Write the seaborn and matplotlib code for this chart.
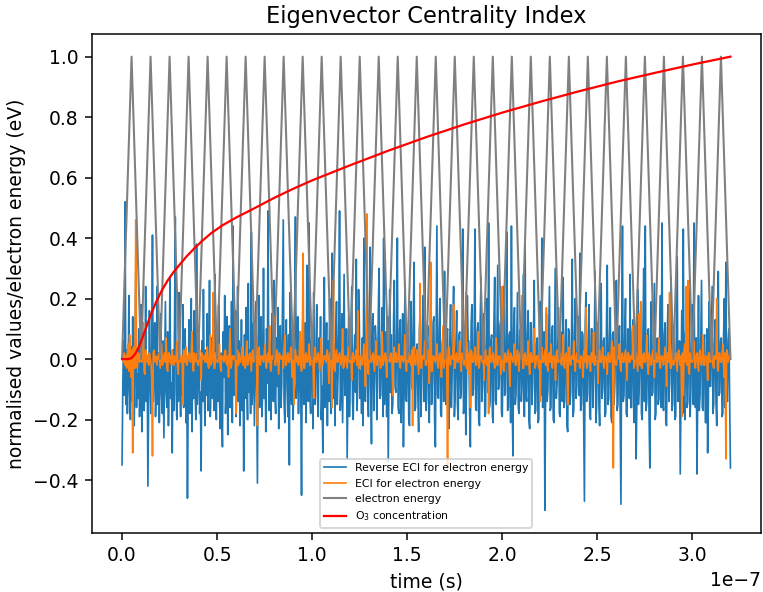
import numpy as np
import pandas as pd
import matplotlib
matplotlib.use('Agg')
import matplotlib.pyplot as plt
import seaborn as sns

# Both ECI series are sampled evenly over 0 .. 320 ns
t_end = 3.2e-7

# Reverse ECI for electron energy (hundredths)
reverse_eci = [
    -35, -8, 6, -12, 52, -15, 3, -18, -6, 21, -11, -20, 4, -14, 14, -9, -22, 2, 29, -16,
    -5, -13, 10, -19, -7, 18, -24, -3, 8, -17, -10, 24, -14, 1, -42, -12, 16, -6, -18, 5,
    41, -14, -4, 12, -19, -9, 24, -15, 2, -21, -7, 15, -12, -18, 6, -26, -3, 19, -11, -16,
    9, -22, -5, 27, -13, -8, -31, 3, -17, 11, 47, -10, -20, 4, -14, 22, -7, -19, 0, -12,
    18, -16, -6, 10, -21, -2, -46, -11, 13, -18, -8, 20, -24, 1, -13, 16, -9, -20, 38, -15,
    -4, 8, -18, -11, -37, 6, -14, 23, -7, -22, 3, -12, 15, -17, -5, 26, -19, -9, 7, -13,
    12, -17, 28, -8, -20, 5, -14, 18, -10, -23, 2, -15, -29, 9, -6, 21, -18, -11, 14, -25,
    -4, 11, -16, -8, 19, -21, 44, -12, -3, 16, -19, -7, 24, -14, 6, -22, -10, 13, -17, -1,
    -37, 8, -13, 17, -6, -20, 25, -11, 3, -18, 42, -15, -7, 12, -22, 0, 19, -12, -41, 7,
    21, -16, -5, 14, -19, -9, 30, -13, 2, -24, 10, -8, 49, -17, -11, 6, -20, 15, -3, -14,
    26, -12, -18, 7, -9, 17, -23, -4, 11, -16, -8, 20, 46, -14, -21, 3, 13, -10, -19, 8,
    -35, 22, -6, -15, 10, -20, 1, 16, 47, -13, -7, 14, -18, -2, 9, -11, -45, 5, 18, -15,
    -9, 12, -21, 31, -6, -14, 45, -11, -18, 6, 9, -23, 22, -8, -15, 4, 18, -12, -19, 7,
    -4, 14, -20, -9, -31, 11, 27, -16, -3, 12, -22, 6, -14, 20, -7, -18, 35, -10, -13, 5,
    -22, 8, 19, -15, -6, 12, 49, -17, -9, 15, -21, 3, 28, -12, -5, 10, -33, -8, 14, -19,
    -6, 9, 24, -14, -20, 2, 8, -11, 33, -17, -8, 23, 12, -13, -4, -18, 7, -22, 40, -10,
    -14, 10, 21, -12, -19, 4, 37, -9, -28, 13, 15, -17, -6, 11, 6, -20, -8, 16, 30, -13,
    -12, 5, 17, -19, 40, -15, -7, 9, -19, 14, -34, -6, 23, -11, 8, -18, -15, 12, 26, -9,
    -11, 7, 40, -16, -18, 10, 13, -21, -7, 15, -29, -4, 25, -13, -14, 6, 8, -20, -22, 12,
    19, -9, -10, 14, 32, -17, -16, 3, 5, -12, -24, 10, 15, -19, -9, 8, 21, -14, 37, -11,
    -17, 6, 11, -13, -21, 4, 26, -15, -8, 12, 14, -20, -29, 7, 44, -12, -13, 9, 20, -18,
    -19, 5, 7, -14, 29, -11, -15, 8, 10, -21, -23, 6, 18, -16, -6, 11, 24, -19, -12, 4,
    16, -15, -20, 8, 9, -13, -11, 5, 43, -18, -14, 10, -25, -7, 21, 6, 6, -17, -29, 11,
    18, -12, -10, 7, 43, -16, -17, 9, 12, -20, -22, 13, 27, -14, -9, 5, 15, -19, -18, 8,
    20, -11, 45, -16, -13, 6, 8, -19, -21, 12, 27, -14, -15, 7, 31, -10, -7, 11, 13, -18,
    -19, 5, 24, -12, -11, 9, 42, -17, -16, 8, 9, -21, 44, -13, -32, 10, 17, -15, -12, 4,
    22, -16, -18, 9, 10, -14, -9, 6, 28, -19, 39, -11, -14, 8, 16, -20, -23, 12, 12, -15,
    -8, 7, 26, -18, -17, 5, 7, -21, -20, 13, 19, -12, 40, -16, -13, 9, -50, -10, 15, -14,
    -10, 6, 24, -17, -16, 8, 11, -20, -21, 12, 30, -13, -8, 5, 17, -18, -19, 9, 5, -14,
    27, -16, -14, 7, 13, -22, -24, 10, 9, -15, -11, 6, 33, -19, -17, 8, 20, -13, -9, 4,
    14, -12, 35, -17, -15, 9, 8, -20, -47, 11, 22, -14, -12, 6, 18, -18, -20, 10, 10, -16,
    -7, 5, 29, -21, -16, 9, 12, -14, -22, 8, 25, -13, -10, 6, 7, -19, -18, 11, 31, -15,
    -13, 7, 17, -19, -21, 8, 9, -15, -8, 12, 26, -17, -15, 6, 11, -20, -48, 9, 44, -14,
    -12, 7, 20, -18, -19, 10, 8, -13, 28, -16, -16, 9, 13, -21, -10, 6, -33, -12, 23, -15,
    -9, 6, 16, -18, -20, 10, 30, -14, 44, -17, -14, 8, 10, -19, -36, 7, 19, -12, -11, 8,
    25, -20, -18, 6, 7, -15, -13, 9, 21, -16, 45, -13, -17, 8, 12, -21, -22, 10, 18, -14,
    -8, 5, 27, -17, -15, 9, 11, -20, -19, 7, 34, -14, -12, 6, -38, -10, 16, -18, 43, -13,
    -20, 9, 9, -16, -14, 8, 23, -19, -10, 6, 18, -15, 45, -12, -16, 7, -38, -11, 21, -17,
    -12, 8, 26, -16, -17, 6, 8, -21, -21, 10, -31, -13, 19, -9, -9, 7, 24, -18, -15, 5,
    13, -14, -22, 9, 29, -12, -11, 6, 7, -19, -18, 8, 20, -16, 32, -11, -14, 6, 10, -15,
    -36,
]

# ECI for electron energy (hundredths)
eci = [
    0, 1, -1, 2, -2, 1, -3, 2, 5, -4, 8, -2, -6, 3, -31, 4, 2, -3, 46, 5,
    -3, 1, 2, -1, 0, 2, -1, 1, 12, -4, -5, 3, 2, -1, 1, -2, 2, 0, -1, -6,
    -32, 2, 3, -1, 1, 0, -2, 1, 0, 2, -3, 1, 5, -2, -1, 1, 2, -1, 7, -3,
    -4, 2, 2, -1, 1, -2, 3, 0, -2, 1, 0, -1, 6, -3, -5, 2, 1, -1, 0, 1,
    -15, 3, 2, -1, 4, -2, -1, 1, 2, 0, -1, 2, 9, -3, -4, 2, 1, -1, 0, 2,
    -2, 1, 3, -1, -7, 2, 1, 0, 1, -1, 2, -1, 4, -2, -3, 1, 8, -2, -1, 1,
    22, -3, -3, 2, 2, -1, -1, 1, 5, -2, -4, 1, 1, 0, -1, 2, 3, -1, -2, 1,
    -6, 2, 10, -3, -2, 1, 1, 0, 1, -1, -18, 2, 3, -2, 2, -1, -1, 1, 4, -2,
    1, 0, -3, 1, 6, -2, -1, 1, 2, -1, -4, 2, 3, -1, 0, 1, 7, -2, -22, 3,
    4, -1, -2, 1, 1, 0, -1, 2, 5, -2, -3, 1, 2, -1, 11, -3, -4, 1, 1, 0,
    14, -2, -2, 1, 3, -1, -5, 2, 1, 0, 0, 1, -3, 2, 8, -2, -2, 1, 2, -1,
    -1, 1, 4, -2, -6, 2, -15, 3, 3, -1, 1, 0, -2, 1, 9, -2, -4, 1, 35, -3,
    -3, 1, 2, -1, -1, 1, 5, -2, -2, 1, 1, 0, -13, 2, 4, -1, -1, 1, 2, -1,
    -4, 2, 7, -2, -2, 1, 0, 1, -1, 2, 3, -1, -8, 2, 2, -1, -16, 3, 26, -3,
    -4, 1, 3, -1, -1, 1, 2, 0, -2, 1, 10, -3, -2, 1, 1, -1, -3, 2, 4, -1,
    -1, 1, -7, 2, 2, -1, 0, 1, 3, -2, 16, -3, -3, 1, 1, 0, -2, 1, 5, -1,
    -9, 3, 48, -4, -5, 2, 3, -1, -1, 1, 2, -1, -4, 2, 6, -2, -2, 1, 1, 0,
    -3, 1, 9, -2, -1, 1, 2, -1, -6, 2, 3, 0, -1, 1, 2, -1, -12, 2, 4, -1,
    2, -1, -1, 1, 5, -2, -3, 1, 1, 0, -1, 1, 8, -2, -4, 2, 2, -1, -1, 1,
    -2, 3, -22, 4, 4, -1, -2, 1, 3, -1, -5, 2, 25, -3, -3, 1, 1, 0, 6, -2,
    -2, 1, 3, -1, -8, 2, 32, -4, -4, 1, 1, 0, -1, 1, 5, -2, -3, 1, 2, -1,
    -6, 2, 11, -3, -1, 1, 3, -2, -36, 4, 4, -1, -2, 1, 1, 0, 18, -3, -3, 1,
    2, -1, -1, 1, 6, -2, -4, 2, 1, 0, -2, 1, 22, -3, 3, -1, -5, 2, -16, 3,
    2, -1, -1, 1, 4, -2, -2, 1, 9, -3, -2, 1, 1, 0, -1, 1, -7, 2, 3, -1,
    -2, 1, -18, 3, 4, -1, -1, 1, 2, -1, -3, 1, 7, -2, -2, 1, 1, 0, -5, 2,
    24, -3, -4, 1, 2, -1, -1, 1, 3, -2, -9, 2, 1, 0, -1, 1, 5, -2, -2, 1,
    3, -1, -4, 2, 1, 0, 21, -3, -3, 1, 2, -1, -2, 1, 6, -2, -5, 2, 2, -1,
    -1, 1, 10, -3, -2, 1, 1, 0, -3, 2, -14, 3, 4, -1, -1, 1, 3, -2, 17, -2,
    -4, 1, 2, -1, 5, -2, -3, 1, 1, 0, -7, 2, 3, -1, -1, 1, 2, -1, -2, 1,
    8, -2, -3, 1, 2, -1, -15, 3, 4, -1, -2, 1, 1, 0, 6, -2, -4, 1, 2, -1,
    2, -1, -3, 1, 1, 0, -6, 2, 3, -1, 17, -3, -2, 1, 1, -1, -4, 2, 2, -1,
    9, -2, -2, 1, 1, 0, -8, 3, 3, -1, -1, 1, 4, -2, -3, 1, 1, 0, -5, 2,
    2, -1, -1, 1, 6, -2, -36, 4, 3, -1, -2, 1, 1, 0, 5, -2, -4, 1, 2, -1,
    -1, 1, 3, -2, -7, 2, 2, -1, -1, 1, 1, 0, 11, -3, -2, 1, 2, -1, -4, 2,
    15, -2, 19, -3, -3, 1, 2, -1, -1, 1, 8, -2, -5, 2, 1, 0, -2, 1, 3, -1,
    -6, 2, 2, -1, -1, 1, 7, -2, -3, 1, 1, 0, -2, 1, 4, -1, -9, 2, 2, -1,
    22, -3, -3, 1, 5, -2, -1, 1, 2, -1, -4, 2, 3, 0, -2, 1, -19, 2, -12, 3,
    5, -1, 24, -2, 26, -4, -5, 2, 1, -1, -1, 1, 6, -2, -3, 1, 2, -1, -4, 2,
    3, -1, -2, 1, 8, -2, -2, 1, 1, 0, -7, 2, 2, -1, -1, 1, 4, -2, -3, 1,
    1, 0, 20, -3, -4, 2, 2, -1, -1, 1, 5, -2, -6, 2, -33, 3, 2, -1, 1, 0,
    0,
]

# Electron energy: triangle pulses, vertices in ns
energy_t_ns = [
    0, 5, 10, 15, 20, 25, 30, 35, 40, 45, 50, 55, 60, 65, 70, 75, 80, 85, 90, 95,
    100, 105, 110, 115, 120, 125, 130, 135, 140, 145, 150, 155, 160, 165, 170, 175,
    180, 185, 190, 195, 200, 205, 210, 215, 220, 225, 230, 235, 240, 245, 250, 255,
    260, 265, 270, 275, 280, 285, 290, 295, 300, 305, 310, 315, 320,
]
energy_val = [
    0, 1, 0, 1, 0, 1, 0, 1, 0, 1, 0, 1, 0, 1, 0, 1, 0, 1, 0, 1,
    0, 1, 0, 1, 0, 1, 0, 1, 0, 1, 0, 1, 0, 1, 0, 1,
    0, 1, 0, 1, 0, 1, 0, 1, 0, 1, 0, 1, 0, 1, 0, 1,
    0, 1, 0, 1, 0, 1, 0, 1, 0, 1, 0, 1, 0,
]

# O3 concentration (time in 1e-7 s)
o3_t = [0, 0.03, 0.05, 0.07, 0.09, 0.11, 0.13, 0.15, 0.18, 0.21, 0.24, 0.27, 0.30,
        0.34, 0.38, 0.42, 0.47, 0.53, 0.6, 0.7, 0.8, 0.9, 1.0, 1.2, 1.4, 1.6, 1.8,
        2.0, 2.2, 2.4, 2.6, 2.8, 3.0, 3.2]
o3_val = [0, 0, 0.003, 0.018, 0.042, 0.075, 0.11, 0.145, 0.19, 0.228, 0.26, 0.287,
          0.31, 0.34, 0.366, 0.39, 0.417, 0.443, 0.468, 0.5, 0.533, 0.563, 0.591,
          0.641, 0.689, 0.734, 0.776, 0.815, 0.851, 0.885, 0.917, 0.946, 0.974, 1.0]

# Build frames
rev_df = pd.DataFrame({'time': np.linspace(0, t_end, len(reverse_eci)),
                       'value': np.array(reverse_eci) / 100})
eci_df = pd.DataFrame({'time': np.linspace(0, t_end, len(eci)),
                       'value': np.array(eci) / 100})
energy_df = pd.DataFrame({'time': np.array(energy_t_ns) * 1e-9, 'value': energy_val})
o3_df = pd.DataFrame({'time': np.array(o3_t) * 1e-7, 'value': o3_val})

# Plot
fig = plt.figure(figsize=(763 / 135, 592 / 135), dpi=135)
ax = fig.add_axes([0.1201, 0.0997, 0.8771, 0.8429])

sns.lineplot(data=rev_df, x='time', y='value', ax=ax, color='tab:blue',
             linewidth=0.9, label='Reverse ECI for electron energy')
sns.lineplot(data=eci_df, x='time', y='value', ax=ax, color='tab:orange',
             linewidth=0.9, label='ECI for electron energy')
sns.lineplot(data=energy_df, x='time', y='value', ax=ax, color='grey',
             linewidth=1.1, label='electron energy')
sns.lineplot(data=o3_df, x='time', y='value', ax=ax, color='red',
             linewidth=1.2, label='O$_3$ concentration')

ax.set_title('Eigenvector Centrality Index')
ax.set_xlabel('time (s)')
ax.set_ylabel('normalised values/electron energy (eV)')
ax.legend(loc='lower center', fontsize='xx-small')

plt.savefig('out.png', dpi=135)
